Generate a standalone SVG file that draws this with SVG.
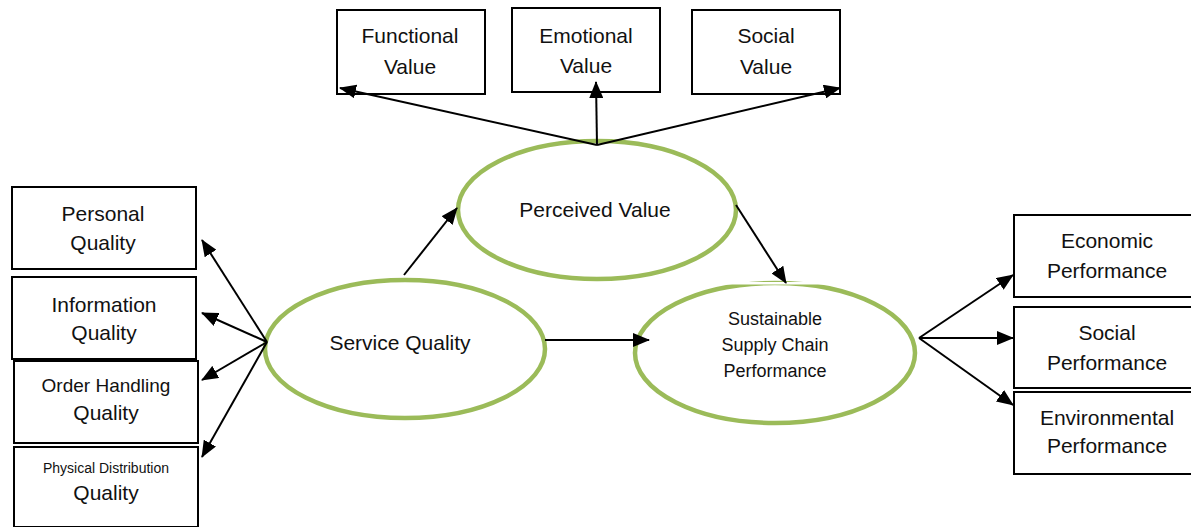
<svg xmlns="http://www.w3.org/2000/svg" width="1191" height="527" viewBox="0 0 1191 527">
  <style>
    .box { fill: #fff; stroke: #000; stroke-width: 2; }
    .oval { fill: #fff; stroke: #9BBB59; stroke-width: 4.5; }
    .lbl { font-family: "Liberation Sans", Arial, sans-serif; font-size: 21px; fill: #111; text-anchor: middle; }
    .edge { stroke: #000; stroke-width: 2; fill: none; marker-end: url(#arrow); }
  </style>
  <defs>
    <marker id="arrow" markerUnits="userSpaceOnUse" markerWidth="18" markerHeight="14" refX="16" refY="7" orient="auto">
      <path d="M0,0 L17,7 L0,14 Z" fill="#000"/>
    </marker>
  </defs>
  <rect width="1191" height="527" fill="#fff"/>

  <!-- Perceived value dimensions -->
  <g id="functional-value">
    <rect class="box" x="337" y="10" width="148" height="84"/>
    <text class="lbl" x="410" y="43">Functional</text>
    <text class="lbl" x="410" y="74">Value</text>
  </g>
  <g id="emotional-value">
    <rect class="box" x="512" y="8" width="148" height="84"/>
    <text class="lbl" x="586" y="43">Emotional</text>
    <text class="lbl" x="586" y="73">Value</text>
  </g>
  <g id="social-value">
    <rect class="box" x="692" y="10" width="148" height="84"/>
    <text class="lbl" x="766" y="43">Social</text>
    <text class="lbl" x="766" y="74">Value</text>
  </g>

  <!-- Service quality dimensions -->
  <g id="personal-quality">
    <rect class="box" x="12" y="187" width="184" height="82"/>
    <text class="lbl" x="103" y="221">Personal</text>
    <text class="lbl" x="103" y="250">Quality</text>
  </g>
  <g id="information-quality">
    <rect class="box" x="12" y="277" width="184" height="82"/>
    <text class="lbl" x="104" y="312">Information</text>
    <text class="lbl" x="104" y="340">Quality</text>
  </g>
  <g id="order-handling-quality">
    <rect class="box" x="14" y="361" width="184" height="82"/>
    <text class="lbl" x="106" y="392" style="font-size:19px">Order Handling</text>
    <text class="lbl" x="106" y="420">Quality</text>
  </g>
  <g id="physical-distribution-quality">
    <rect class="box" x="14" y="447" width="184" height="80"/>
    <text class="lbl" x="106" y="473" style="font-size:14px">Physical Distribution</text>
    <text class="lbl" x="106" y="500">Quality</text>
  </g>

  <!-- Performance dimensions -->
  <g id="economic-performance">
    <rect class="box" x="1014" y="215" width="182" height="82"/>
    <text class="lbl" x="1107" y="248">Economic</text>
    <text class="lbl" x="1107" y="278">Performance</text>
  </g>
  <g id="social-performance">
    <rect class="box" x="1014" y="307" width="182" height="81"/>
    <text class="lbl" x="1107" y="340">Social</text>
    <text class="lbl" x="1107" y="370">Performance</text>
  </g>
  <g id="environmental-performance">
    <rect class="box" x="1014" y="392" width="182" height="82"/>
    <text class="lbl" x="1107" y="425">Environmental</text>
    <text class="lbl" x="1107" y="453">Performance</text>
  </g>

  <!-- Latent constructs -->
  <g id="perceived-value">
    <ellipse class="oval" cx="597" cy="210" rx="139" ry="69"/>
    <text class="lbl" x="595" y="217">Perceived Value</text>
  </g>
  <g id="service-quality">
    <ellipse class="oval" cx="405" cy="349" rx="140" ry="69"/>
    <text class="lbl" x="400" y="350">Service Quality</text>
  </g>
  <g id="sscp">
    <ellipse class="oval" cx="775" cy="353" rx="140" ry="70"/>
    <rect x="695" y="282" width="162" height="2.5" fill="#fff"/>
    <text class="lbl" x="775" y="325" style="font-size:18px">Sustainable</text>
    <text class="lbl" x="775" y="351" style="font-size:18px">Supply Chain</text>
    <text class="lbl" x="775" y="377" style="font-size:18px">Performance</text>
  </g>

  <!-- Connectors -->
  <g id="connectors">
    <line class="edge" x1="597" y1="145" x2="340" y2="88"/>
    <line class="edge" x1="597" y1="145" x2="596" y2="82"/>
    <line class="edge" x1="597" y1="145" x2="840" y2="88"/>

    <line class="edge" x1="267" y1="342" x2="202" y2="240"/>
    <line class="edge" x1="267" y1="342" x2="202" y2="313"/>
    <line class="edge" x1="267" y1="342" x2="202" y2="380"/>
    <line class="edge" x1="267" y1="342" x2="202" y2="457"/>

    <line class="edge" x1="404" y1="275" x2="457" y2="208"/>
    <line class="edge" x1="545" y1="340" x2="649" y2="340"/>
    <line class="edge" x1="736" y1="205" x2="786" y2="283"/>

    <line class="edge" x1="919" y1="338" x2="1013" y2="275"/>
    <line class="edge" x1="919" y1="338" x2="1013" y2="338"/>
    <line class="edge" x1="919" y1="338" x2="1013" y2="405"/>
  </g>
</svg>
